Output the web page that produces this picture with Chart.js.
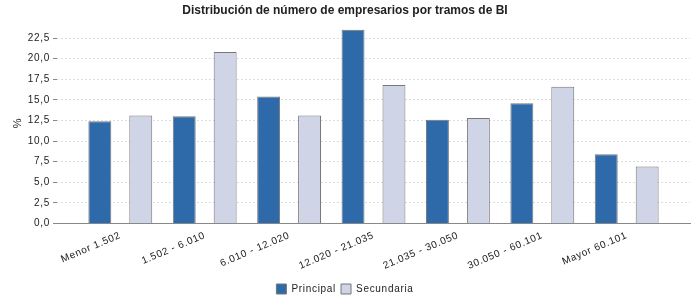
<!DOCTYPE html>
<html>
<head>
<meta charset="utf-8">
<script src="https://cdn.jsdelivr.net/npm/chart.js@4/dist/chart.umd.min.js"></script>
<style>
  html, body { margin: 0; padding: 0; background: #fff; }
  #wrap { width: 700px; height: 300px; }
</style>
</head>
<body>
<div id="wrap"><canvas id="chart"></canvas></div>
<script>
const categories = ['Menor 1.502', '1.502 - 6.010', '6.010 - 12.020', '12.020 - 21.035', '21.035 - 30.050', '30.050 - 60.101', 'Mayor 60.101'];
const principal = [12.4, 13.0, 15.4, 23.5, 12.6, 14.6, 8.4];
const secundaria = [13.1, 20.8, 13.1, 16.8, 12.8, 16.6, 6.9];
const yTicks = [0, 2.5, 5, 7.5, 10, 12.5, 15, 17.5, 20, 22.5];

// spaced-out labels like the original, but not on the title
const spacing = {
  id: 'spacing',
  afterInit(chart) {
    const t = chart.titleBlock;
    if (t) {
      const draw = t.draw.bind(t);
      t.draw = (...args) => {
        chart.ctx.letterSpacing = '0px';
        draw(...args);
        chart.ctx.letterSpacing = '0.7px';
      };
    }
  },
  beforeUpdate(chart) { chart.ctx.letterSpacing = '0.7px'; },
  beforeDraw(chart) { chart.ctx.letterSpacing = '0.7px'; }
};

const ctx = document.getElementById('chart').getContext('2d');
const myChart = new Chart(ctx, {
  type: 'bar',
  data: {
    labels: categories,
    datasets: [{
      label: 'Principal',
      data: principal,
      backgroundColor: '#2e69aa',
      borderColor: '#777',
      borderWidth: 1
    }, {
      label: 'Secundaria',
      data: secundaria,
      backgroundColor: '#cfd4e6',
      borderColor: '#777',
      borderWidth: 1
    }]
  },
  options: {
    responsive: true,
    maintainAspectRatio: false,
    animation: false,
    categoryPercentage: 0.97,
    barPercentage: 0.56,
    layout: { padding: { left: 0, right: 10, top: 0, bottom: -4 } },
    plugins: {
      title: {
        display: true,
        text: 'Distribución de número de empresarios por tramos de BI',
        color: '#222',
        font: { family: 'Liberation Sans', size: 12, weight: 'bold' },
        padding: { top: 3, bottom: 5 }
      },
      legend: {
        position: 'bottom',
        labels: {
          color: '#222',
          font: { family: 'Liberation Sans', size: 10 },
          boxWidth: 10,
          boxHeight: 10,
          padding: 5
        }
      },
      tooltip: { enabled: false }
    },
    scales: {
      x: {
        offset: true,
        afterBuildTicks(scale) {
          // leave some room at both ends of the axis
          scale._startValue -= 0.25;
          scale._valueRange += 0.5;
        },
        afterFit(scale) { scale.height += 1; },
        grid: { display: false, drawTicks: false },
        border: { display: true, color: '#888', width: 1 },
        ticks: {
          color: '#222',
          font: { family: 'Liberation Sans', size: 10 },
          minRotation: 23,
          maxRotation: 23,
          padding: 6,
          autoSkip: false
        }
      },
      y: {
        min: 0,
        max: 24.4,
        afterBuildTicks(scale) {
          scale.ticks = yTicks.map(v => ({ value: v }));
        },
        afterFit(scale) { scale.width = 57; },
        grid: {
          color: '#dcdcdc',
          tickColor: '#888',
          tickLength: 4
        },
        border: { display: false, dash: [2, 2] },
        ticks: {
          color: '#222',
          font: { family: 'Liberation Sans', size: 10 },
          padding: 3,
          callback: v => v.toFixed(1).replace('.', ',')
        },
        title: {
          display: true,
          text: '%',
          color: '#222',
          font: { family: 'Liberation Sans', size: 11 },
          padding: { top: 11, bottom: 0 }
        }
      }
    }
  },
  plugins: [spacing]
});
</script>
</body>
</html>
